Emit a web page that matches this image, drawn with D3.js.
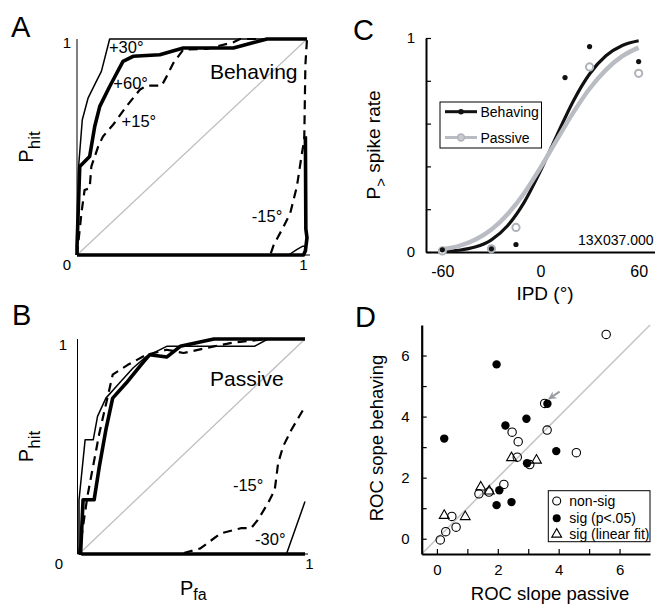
<!DOCTYPE html>
<html>
<head>
<meta charset="utf-8">
<script src="https://cdn.jsdelivr.net/npm/d3@7"></script>
<style>
  body { margin: 0; background: #fff; }
  svg { font-family: Arial, "Liberation Sans", Helvetica, sans-serif; }
</style>
</head>
<body>
<svg id="fig" width="655" height="604"></svg>
<script>
// ROC curves, panel A (behaving): [P_fa, P_hit]
var plus30A = [[0, 0], [0.005, 0.2], [0.007, 0.41], [0.023, 0.626], [0.048, 0.726], [0.084, 0.804], [0.106, 0.85], [0.142, 1], [1, 1]];
var plus60A = [[0, 0], [0, 0.039], [0.012, 0.41], [0.055, 0.456], [0.077, 0.595], [0.099, 0.688], [0.142, 0.78], [0.2, 0.896], [0.244, 0.92], [0.36, 0.927], [0.462, 0.958], [0.68, 0.958], [0.826, 1], [1, 1]];
var plus15A = [[0, 0], [0.02, 0.2], [0.033, 0.301], [0.055, 0.309], [0.0625, 0.41], [0.092, 0.502], [0.113, 0.549], [0.157, 0.603], [0.215, 0.688], [0.273, 0.765], [0.302, 0.784], [0.368, 0.784], [0.39, 0.827], [0.419, 0.889], [0.462, 0.951], [0.564, 0.954], [0.68, 0.985], [0.709, 1], [1, 1]];
var minus15A = [[0, 0], [0.84, 0], [0.855, 0.046], [0.898, 0.131], [0.927, 0.193], [0.956, 0.317], [0.978, 0.471], [0.988, 0.533], [0.993, 0.88], [1, 1]];
var minus30A = [[0, 0], [0.92, 0], [0.955, 0.025], [0.98, 0.04], [0.993, 0.04]];
var minus60A = [[0, 0], [0.985, 0], [0.993, 0.02], [1, 0.08], [0.995, 0.12], [0.993, 0.55]];

// ROC curves, panel B (passive)
var plus30B = [[0, 0], [0, 0.25], [0.027, 0.531], [0.063, 0.531], [0.082, 0.64], [0.119, 0.725], [0.179, 0.795], [0.239, 0.865], [0.299, 0.919], [0.388, 0.966], [0.776, 0.966], [0.836, 1], [1, 1]];
var plus60B = [[0.007, 0], [0.018, 0.252], [0.067, 0.252], [0.09, 0.407], [0.119, 0.578], [0.149, 0.725], [0.209, 0.795], [0.269, 0.873], [0.313, 0.927], [0.388, 0.916], [0.448, 0.966], [0.597, 1], [1, 1]];
var plus15B = [[0, 0], [0.037, 0.267], [0.09, 0.562], [0.134, 0.764], [0.149, 0.834], [0.216, 0.88], [0.299, 0.927], [0.388, 0.95], [0.463, 0.935], [0.597, 0.966], [0.687, 0.984], [0.836, 1], [1, 1]];
var minus15B = [[0, 0], [0.448, 0], [0.537, 0.026], [0.627, 0.096], [0.716, 0.12], [0.761, 0.12], [0.791, 0.158], [0.836, 0.236], [0.866, 0.298], [0.881, 0.422], [0.903, 0.5], [0.94, 0.578], [1, 0.686]];
var minus30B = [[0, 0], [0.918, 0], [1, 0.244]];
var minus60B = [[0.01, 0], [1, 0]];

// Panel C: P(> spike rate) vs IPD
var ipd = [-60, -30, -15, 15, 30, 60];
var behavingP = [0.01, 0.015, 0.035, 0.815, 0.96, 0.89];
var passiveP = [0.005, 0.015, 0.115, null, 0.865, 0.835];
var fitIpd = [-60, -50, -40, -30, -20, -10, 0, 10, 20, 30, 40, 50, 60];
var behavingFit = [0.002, 0.008, 0.023, 0.057, 0.124, 0.232, 0.379, 0.545, 0.705, 0.832, 0.917, 0.965, 0.987];
var passiveFit = [0.013, 0.028, 0.057, 0.105, 0.178, 0.275, 0.394, 0.524, 0.651, 0.763, 0.851, 0.915, 0.955];

// Panel D: ROC slope passive (x) vs behaving (y)
var nonsigX = [5.56, 3.54, 3.62, 2.47, 2.67, 2.64, 4.58, 3.05, 2.20, 1.38, 1.71, 0.49, 0.63, 0.29, 0.11];
var nonsigY = [6.69, 4.43, 3.56, 3.49, 3.18, 2.67, 2.82, 2.43, 1.78, 1.47, 1.53, 0.73, 0.38, 0.23, -0.04];
var sigX = [1.96, 0.24, 2.25, 2.94, 3.63, 3.92, 2.96, 2.05, 1.96, 2.45];
var sigY = [5.71, 3.28, 3.71, 3.93, 4.42, 2.87, 2.47, 1.59, 1.10, 1.20];
var linX = [0.24, 0.93, 1.44, 1.72, 2.45, 3.27];
var linY = [0.76, 0.72, 1.69, 1.56, 2.65, 2.57];
var arrowFrom = [4.03, 4.82];
var arrowTo = [3.68, 4.58];
var slopeTicks = [0, 1, 2, 3, 4, 5, 6];

var svg = d3.select('#fig');
var GRAY = '#b9bdc3';

var rocStyles = {
  thick: { width: 3.6, dash: null },
  thin: { width: 1.5, dash: null },
  dashed: { width: 2.2, dash: '9,6' }
};

// Panel letters.
[['A', 11, 37], ['B', 12, 325], ['C', 353, 40], ['D', 355, 327]].forEach(function (p) {
  svg.append('text').attr('x', p[1]).attr('y', p[2])
    .style('font-size', '29px').text(p[0]);
});

function subLabel(sel, main, sub, rest, size, subSize, shift) {
  sel.append('tspan').text(main);
  sel.append('tspan').attr('dy', shift).style('font-size', subSize + 'px').text(sub);
  if (rest) sel.append('tspan').attr('dy', -shift).style('font-size', size + 'px').text(rest);
}

function drawRoc(cfg) {
  var x = d3.scaleLinear().domain([0, 1]).range(cfg.xr);
  var y = d3.scaleLinear().domain([0, 1]).range(cfg.yr);
  var g = svg.append('g');

  // Chance diagonal.
  g.append('line')
    .attr('x1', x(0)).attr('y1', y(0)).attr('x2', x(1)).attr('y2', y(1))
    .style('stroke', '#bcbfc3').style('stroke-width', 1.3);

  // Axes.
  g.append('line')
    .attr('x1', cfg.axisX).attr('x2', cfg.axisX).attr('y1', y(0)).attr('y2', y(1))
    .style('stroke', '#000').style('stroke-width', 1);
  g.append('line')
    .attr('x1', cfg.axisX).attr('x2', x(1) + 3).attr('y1', y(0)).attr('y2', y(0))
    .style('stroke', '#000').style('stroke-width', 1);

  var line = d3.line().x(function (d) { return x(d[0]); }).y(function (d) { return y(d[1]); });
  cfg.curves.forEach(function (c) {
    var st = rocStyles[c.style];
    g.append('path')
      .attr('d', line(c.pts))
      .style('fill', 'none')
      .style('stroke', '#000')
      .style('stroke-width', st.width)
      .style('stroke-linejoin', 'round')
      .style('stroke-dasharray', st.dash);
  });

  // Tick labels.
  g.append('text').attr('x', cfg.yLabX).attr('y', y(1) + cfg.oneDy)
    .style('font-size', '15px').style('text-anchor', 'middle').text('1');
  g.append('text').attr('x', cfg.zeroX).attr('y', y(0) + 15)
    .style('font-size', '15px').style('text-anchor', 'middle').text('0');
  g.append('text').attr('x', x(1) + cfg.xOneDx).attr('y', y(0) + 15)
    .style('font-size', '15px').style('text-anchor', 'middle').text('1');

  cfg.labels.forEach(function (l) {
    g.append('text').attr('x', x(l[0])).attr('y', y(l[1]))
      .style('font-size', l[3] + 'px').text(l[2]);
  });

  // P_hit.
  var mid = (y(0) + y(1)) / 2;
  g.append('text')
    .attr('transform', 'translate(33,' + mid + ') rotate(-90)')
    .style('text-anchor', 'middle').style('font-size', '20px')
    .call(subLabel, 'P', 'hit', null, 20, 17, 7);
  return { x: x, y: y, g: g };
}

drawRoc({
  xr: [77, 307], yr: [255, 39], axisX: 77,
  yLabX: 67, oneDy: 9, zeroX: 67, xOneDx: -3.5,
  curves: [
    { style: 'dashed', pts: plus15A },
    { style: 'dashed', pts: minus15A },
    { style: 'thin', pts: plus30A },
    { style: 'thin', pts: minus30A },
    { style: 'thick', pts: plus60A },
    { style: 'thick', pts: minus60A }
  ],
  labels: [
    [0.139, 0.935, '+30°', 16.5],
    [0.158, 0.767, '+60°', 16.5],
    [0.194, 0.594, '+15°', 16.5],
    [0.76, 0.154, '-15°', 16.5],
    [0.578, 0.815, 'Behaving', 21]
  ]
});

var rocB = drawRoc({
  xr: [79, 305], yr: [554, 339], axisX: 77.5,
  yLabX: 63, oneDy: 11, zeroX: 59, xOneDx: 4.5,
  curves: [
    { style: 'dashed', pts: plus15B },
    { style: 'dashed', pts: minus15B },
    { style: 'thin', pts: plus30B },
    { style: 'thin', pts: minus30B },
    { style: 'thick', pts: plus60B },
    { style: 'thick', pts: minus60B }
  ],
  labels: [
    [0.58, 0.781, 'Passive', 21],
    [0.681, 0.293, '-15°', 16.5],
    [0.779, 0.042, '-30°', 16.5]
  ]
});

// P_fa (sits at the bottom edge, as in the source figure).
rocB.g.append('text').attr('x', 180).attr('y', 595).style('font-size', '20px')
  .call(subLabel, 'P', 'fa', null, 20, 16, 5);

// ---------- Panel C ----------
(function () {
  var x = d3.scaleLinear().domain([-70, 70]).range([426, 655]);
  var y = d3.scaleLinear().domain([0, 1]).range([252, 38]);
  var g = svg.append('g');

  var yAxis = d3.axisLeft(y)
    .tickValues([0, 0.2, 0.4, 0.6, 0.8, 1])
    .tickSizeInner(-5).tickSizeOuter(0).tickPadding(11)
    .tickFormat(function (d) { return d === 0 || d === 1 ? String(d) : ''; });
  var xAxis = d3.axisBottom(x)
    .tickValues([-60, 0, 60])
    .tickSize(0).tickPadding(14)
    .tickFormat(function (d) { return String(d); });

  var gy = g.append('g').attr('transform', 'translate(426,0)').call(yAxis);
  var gx = g.append('g').attr('transform', 'translate(0,252)').call(xAxis);
  [gy, gx].forEach(function (a) {
    a.select('.domain').style('stroke-width', 2);
    a.selectAll('.tick line').style('stroke-width', 1.2);
    a.selectAll('text').style('font-size', '15px').style('font-family', null);
  });
  gx.selectAll('text').style('font-size', '16px');

  var fit = d3.line().curve(d3.curveMonotoneX)
    .x(function (d, i) { return x(fitIpd[i]); })
    .y(function (d) { return y(d); });
  g.append('path').attr('d', fit(behavingFit))
    .style('fill', 'none').style('stroke', '#111').style('stroke-width', 3.2);
  g.append('path').attr('d', fit(passiveFit))
    .style('fill', 'none').style('stroke', GRAY).style('stroke-width', 4.4);

  g.selectAll('.pas').data(ipd.map(function (d, i) { return [d, passiveP[i]]; })
    .filter(function (d) { return d[1] !== null; }))
    .enter().append('circle')
    .attr('cx', function (d) { return x(d[0]); })
    .attr('cy', function (d) { return y(d[1]); })
    .attr('r', 3.6)
    .style('fill', '#fff').style('stroke', '#aeb3ba').style('stroke-width', 2);
  g.selectAll('.beh').data(ipd.map(function (d, i) { return [d, behavingP[i]]; }))
    .enter().append('circle')
    .attr('cx', function (d) { return x(d[0]); })
    .attr('cy', function (d) { return y(d[1]); })
    .attr('r', 2.6)
    .style('fill', '#111');

  // Legend.
  g.append('rect').attr('x', 440).attr('y', 102).attr('width', 101.5).attr('height', 46)
    .style('fill', '#fff').style('stroke', '#000').style('stroke-width', 1);
  g.append('line').attr('x1', 445).attr('x2', 477).attr('y1', 111.7).attr('y2', 111.7)
    .style('stroke', '#111').style('stroke-width', 3);
  g.append('circle').attr('cx', 461).attr('cy', 111.7).attr('r', 2.8).style('fill', '#111');
  g.append('line').attr('x1', 445).attr('x2', 477).attr('y1', 137.5).attr('y2', 137.5)
    .style('stroke', GRAY).style('stroke-width', 3);
  g.append('circle').attr('cx', 461).attr('cy', 137.5).attr('r', 3.4)
    .style('fill', '#c7cbd0').style('stroke', '#aeb3ba').style('stroke-width', 1.5);
  g.append('text').attr('x', 480.5).attr('y', 116.5).style('font-size', '14px').text('Behaving');
  g.append('text').attr('x', 480.5).attr('y', 142.5).style('font-size', '14px').text('Passive');

  g.append('text').attr('x', 578).attr('y', 245).style('font-size', '14px').text('13X037.000');

  g.append('text').attr('x', 545).attr('y', 300).style('font-size', '19px')
    .style('text-anchor', 'middle').text('IPD (°)');
  g.append('text')
    .attr('transform', 'translate(380,145) rotate(-90)')
    .style('text-anchor', 'middle').style('font-size', '19px')
    .call(subLabel, 'P', '>', ' spike rate', 19, 15, 6);
})();

// ---------- Panel D ----------
(function () {
  var x = d3.scaleLinear().domain([-0.5, 7]).range([421.7, 650]);
  var y = d3.scaleLinear().domain([-0.5, 7]).range([554, 325]);
  var g = svg.append('g');

  g.append('line')
    .attr('x1', x(-0.5)).attr('y1', y(-0.5)).attr('x2', x(7)).attr('y2', y(7))
    .style('stroke', '#c4c6c9').style('stroke-width', 1.6);

  var fmt = function (d) { return d % 2 === 0 ? String(d) : ''; };
  var xAxis = d3.axisBottom(x).tickValues(slopeTicks)
    .tickSizeInner(-5).tickSizeOuter(0).tickPadding(10).tickFormat(fmt);
  var yAxis = d3.axisLeft(y).tickValues(slopeTicks)
    .tickSizeInner(-5).tickSizeOuter(0).tickPadding(12).tickFormat(fmt);
  var gx = g.append('g').attr('transform', 'translate(0,554)').call(xAxis);
  var gy = g.append('g').attr('transform', 'translate(421.7,0)').call(yAxis);
  [gx, gy].forEach(function (a) {
    a.select('.domain').style('stroke-width', 2.2);
    a.selectAll('.tick line').style('stroke-width', 1.2);
    a.selectAll('text').style('font-size', '15px').style('font-family', null);
  });

  g.selectAll('.ns').data(nonsigX.map(function (d, i) { return [d, nonsigY[i]]; }))
    .enter().append('circle')
    .attr('cx', function (d) { return x(d[0]); })
    .attr('cy', function (d) { return y(d[1]); })
    .attr('r', 4.2)
    .style('fill', 'none').style('stroke', '#000').style('stroke-width', 1.1);
  g.selectAll('.sg').data(sigX.map(function (d, i) { return [d, sigY[i]]; }))
    .enter().append('circle')
    .attr('cx', function (d) { return x(d[0]); })
    .attr('cy', function (d) { return y(d[1]); })
    .attr('r', 4.2)
    .style('fill', '#000');
  var tri = d3.symbol().type(d3.symbolTriangle).size(42);
  g.selectAll('.lf').data(linX.map(function (d, i) { return [d, linY[i]]; }))
    .enter().append('path')
    .attr('d', tri)
    .attr('transform', function (d) { return 'translate(' + x(d[0]) + ',' + y(d[1]) + ')'; })
    .style('fill', 'none').style('stroke', '#000').style('stroke-width', 1.1);

  // Arrow marking the example neuron.
  svg.append('defs').append('marker')
    .attr('id', 'ah').attr('viewBox', '0 0 10 10').attr('refX', 9).attr('refY', 5)
    .attr('markerWidth', 4).attr('markerHeight', 4).attr('orient', 'auto')
    .append('path').attr('d', 'M0,0 L10,5 L0,10 L3,5 Z').style('fill', '#9a9ea3');
  g.append('line')
    .attr('x1', x(arrowFrom[0])).attr('y1', y(arrowFrom[1]))
    .attr('x2', x(arrowTo[0])).attr('y2', y(arrowTo[1]))
    .attr('marker-end', 'url(#ah)')
    .style('stroke', '#9a9ea3').style('stroke-width', 2);

  // Legend.
  g.append('rect').attr('x', 548.3).attr('y', 490.7).attr('width', 101.7).attr('height', 51)
    .style('fill', '#fff').style('stroke', '#000').style('stroke-width', 1);
  g.append('circle').attr('cx', 556.7).attr('cy', 501).attr('r', 4)
    .style('fill', 'none').style('stroke', '#000').style('stroke-width', 1.1);
  g.append('circle').attr('cx', 556.7).attr('cy', 518.3).attr('r', 4).style('fill', '#000');
  g.append('path').attr('d', tri).attr('transform', 'translate(556.7,534.3)')
    .style('fill', 'none').style('stroke', '#000').style('stroke-width', 1.1);
  [['non-sig', 501], ['sig (p<.05)', 518.3], ['sig (linear fit)', 534.3]].forEach(function (t) {
    g.append('text').attr('x', 569.3).attr('y', t[1] + 5).style('font-size', '14px').text(t[0]);
  });

  g.append('text').attr('x', 550).attr('y', 600).style('font-size', '18.5px')
    .style('text-anchor', 'middle').text('ROC slope passive');
  g.append('text')
    .attr('transform', 'translate(383,438) rotate(-90)')
    .style('text-anchor', 'middle').style('font-size', '18.5px')
    .text('ROC sope behaving');
})();
</script>
</body>
</html>
